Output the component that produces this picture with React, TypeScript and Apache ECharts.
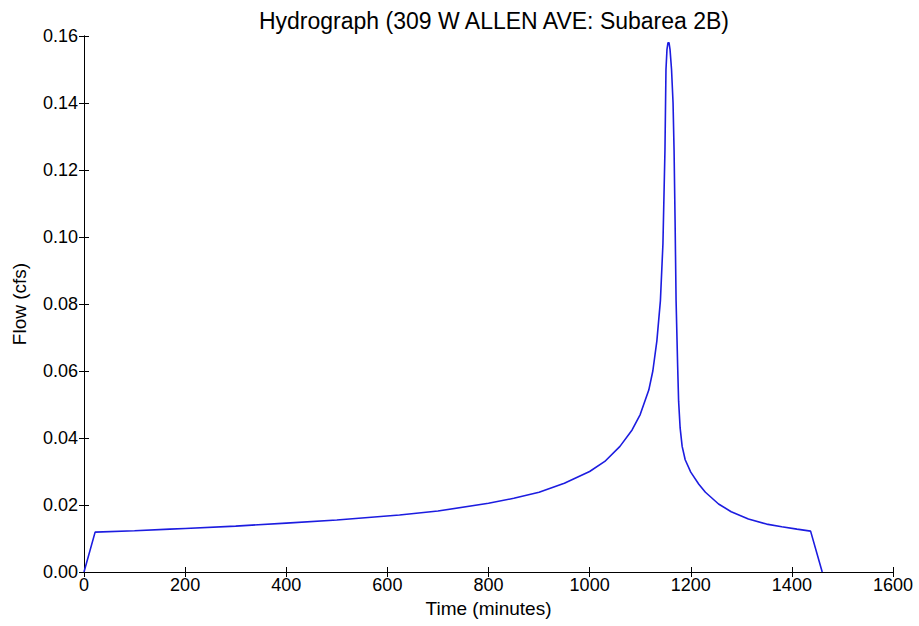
import React, { useEffect, useRef } from "react";
import * as echarts from "echarts";

const times = [0, 22, 100, 170, 200, 300, 400, 500, 624, 700, 800, 850, 900, 950, 1000, 1030, 1060, 1084, 1100, 1117, 1125, 1133, 1140, 1145, 1149, 1151, 1153, 1155, 1157, 1159, 1162, 1165, 1167, 1169, 1171, 1174, 1176, 1179, 1183, 1189, 1200, 1216, 1229, 1255, 1280, 1314, 1350, 1380, 1410, 1437, 1460];
const flows = [0, 0.0119, 0.0123, 0.0128, 0.013, 0.0137, 0.0146, 0.0155, 0.017, 0.0182, 0.0205, 0.022, 0.0238, 0.0265, 0.03, 0.033, 0.0375, 0.0424, 0.047, 0.0543, 0.06, 0.069, 0.081, 0.098, 0.126, 0.15, 0.156, 0.158, 0.158, 0.156, 0.15, 0.14, 0.126, 0.105, 0.081, 0.062, 0.051, 0.043, 0.0375, 0.0335, 0.0298, 0.0262, 0.0238, 0.0203, 0.018, 0.0158, 0.0143, 0.0135, 0.0128, 0.0122, 0];
const xTicks = [0, 200, 400, 600, 800, 1000, 1200, 1400, 1600];
const yTicks = [0, 0.02, 0.04, 0.06, 0.08, 0.1, 0.12, 0.14, 0.16];

const FONT = "Liberation Sans, Arial, sans-serif";

export default function App() {
  const ref = useRef<HTMLDivElement>(null);
  useEffect(() => {
    const chart = echarts.init(ref.current!, null, { renderer: "svg" });
    const axisLine = { show: true, lineStyle: { color: "#000", width: 1 } };
    const tickIn = { show: true, inside: true, length: 5, lineStyle: { color: "#000" } };
    const xBase = { type: "value", min: xTicks[0], max: xTicks[xTicks.length - 1], interval: 200, splitLine: { show: false } };
    const yBase = { type: "value", min: yTicks[0], max: yTicks[yTicks.length - 1], interval: 0.02, splitLine: { show: false } };
    chart.setOption({
      animation: false,
      backgroundColor: "#fff",
      title: {
        text: "Hydrograph (309 W ALLEN AVE: Subarea 2B)",
        left: 489,
        top: 4,
        textAlign: "center",
        textStyle: { fontFamily: FONT, fontSize: 23, fontWeight: "normal", color: "#000" },
      },
      grid: { left: 84, right: 26, top: 36, bottom: 54 },
      xAxis: [
        {
          ...xBase,
          position: "bottom",
          name: "Time (minutes)",
          nameLocation: "middle",
          nameGap: 26,
          nameTextStyle: { fontFamily: FONT, fontSize: 19, color: "#000" },
          axisLine,
          axisTick: tickIn,
          axisLabel: { fontFamily: FONT, fontSize: 18, color: "#000", margin: 4, formatter: (v: number) => String(v) },
        },
        {
          ...xBase,
          position: "top",
          axisLine,
          axisTick: tickIn,
          axisLabel: { show: false },
        },
      ],
      yAxis: [
        {
          ...yBase,
          position: "left",
          name: "Flow (cfs)",
          nameLocation: "middle",
          nameGap: 55,
          nameTextStyle: { fontFamily: FONT, fontSize: 19, color: "#000" },
          axisLine,
          axisTick: tickIn,
          axisLabel: {
            fontFamily: FONT,
            fontSize: 18,
            color: "#000",
            margin: 6,
            formatter: (v: number) => v.toFixed(2),
          },
        },
        {
          ...yBase,
          position: "right",
          axisLine,
          axisTick: tickIn,
          axisLabel: { show: false },
        },
      ],
      series: [
        {
          type: "line",
          data: times.map((t, i) => [t, flows[i]]),
          showSymbol: false,
          smooth: false,
          lineStyle: { color: "#1c1ce0", width: 1.6 },
          xAxisIndex: 0,
          yAxisIndex: 0,
        },
      ],
    });
    return () => chart.dispose();
  }, []);
  return <div ref={ref} style={{ width: 919, height: 626, position: "absolute", left: 0, top: 0 }} />;
}
